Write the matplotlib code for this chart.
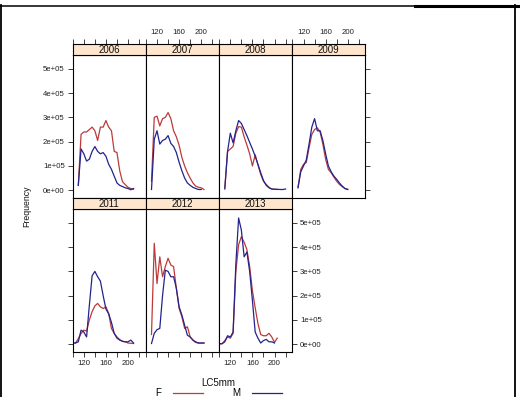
import matplotlib
matplotlib.use('Agg')
import matplotlib.pyplot as plt
import numpy as np
from matplotlib.lines import Line2D

plt.rcParams['font.family'] = ['Liberation Sans', 'DejaVu Sans']

# frequencies in units of 1e5, one value per 5 mm length class
years = ['2006', '2007', '2008', '2009', '2011', '2012', '2013']
start_lc = [110, 110, 110, 110, 100, 110, 100]

f_2006 = [0.2, 2.3, 2.4, 2.4, 2.5, 2.6, 2.45, 2.05, 2.6, 2.6, 2.87, 2.6, 2.45,
          1.6, 1.55, 0.8, 0.35, 0.23, 0.12, 0.07, 0.04]
m_2006 = [0.2, 1.7, 1.5, 1.2, 1.28, 1.6, 1.8, 1.6, 1.5, 1.55, 1.4, 1.07, 0.86,
          0.58, 0.3, 0.2, 0.15, 0.1, 0.07, 0.02, 0.07]
f_2007 = [0.37, 3.0, 3.05, 2.65, 2.95, 3.0, 3.2, 2.95, 2.45, 2.2, 1.85, 1.35,
          1.0, 0.72, 0.5, 0.3, 0.17, 0.12, 0.1, 0.03]
m_2007 = [0.03, 2.1, 2.45, 1.9, 2.05, 2.1, 2.25, 1.93, 1.8, 1.55, 1.15, 0.8,
          0.5, 0.3, 0.2, 0.12, 0.07, 0.03, 0.03]
f_2008 = [0.1, 1.6, 1.7, 1.8, 2.35, 2.62, 2.6, 2.2, 1.86, 1.5, 1.0, 1.46, 1.04,
          0.65, 0.37, 0.24, 0.12, 0.05, 0.04, 0.03]
m_2008 = [0.05, 1.6, 2.35, 1.95, 2.45, 2.87, 2.75, 2.5, 2.25, 1.97, 1.7, 1.4,
          1.07, 0.72, 0.4, 0.2, 0.1, 0.05, 0.04, 0.04, 0.03, 0.03, 0.05]
f_2009 = [0.12, 0.86, 1.07, 1.14, 1.75, 2.3, 2.5, 2.57, 2.4, 1.9, 1.28, 0.86,
          0.72, 0.54, 0.37, 0.24, 0.15, 0.07, 0.04]
m_2009 = [0.1, 0.76, 1.0, 1.25, 1.9, 2.6, 2.95, 2.45, 2.45, 2.05, 1.5, 1.0,
          0.76, 0.58, 0.45, 0.3, 0.17, 0.07, 0.03]
f_2011 = [0.05, 0.05, 0.23, 0.44, 0.58, 0.54, 1.0, 1.34, 1.58, 1.68, 1.54, 1.47,
          1.54, 1.27, 0.65, 0.44, 0.3, 0.19, 0.12, 0.1, 0.05, 0.04, 0.03]
m_2011 = [0.05, 0.05, 0.1, 0.58, 0.5, 0.3, 1.6, 2.82, 3.0, 2.78, 2.6, 2.0, 1.45,
          1.25, 0.9, 0.45, 0.25, 0.17, 0.12, 0.1, 0.1, 0.17, 0.05]
f_2012 = [0.4, 4.16, 2.5, 3.6, 2.78, 3.2, 3.54, 3.26, 3.2, 2.3, 1.47, 1.13,
          0.65, 0.72, 0.3, 0.17, 0.07, 0.05, 0.05, 0.05]
m_2012 = [0.03, 0.45, 0.6, 0.65, 2.0, 3.05, 3.0, 2.78, 2.78, 2.3, 1.54, 1.2,
          0.78, 0.37, 0.3, 0.17, 0.1, 0.05, 0.05, 0.05]
f_2013 = [0.02, 0.02, 0.15, 0.3, 0.25, 0.45, 3.0, 4.1, 4.43, 4.2, 3.9, 3.2, 2.2,
          1.5, 0.85, 0.4, 0.35, 0.35, 0.45, 0.3, 0.08, 0.25]
m_2013 = [0.02, 0.02, 0.1, 0.35, 0.3, 0.5, 3.3, 5.2, 4.7, 3.6, 3.8, 3.0, 1.8,
          0.5, 0.25, 0.05, 0.15, 0.2, 0.1, 0.1, 0.05]

females = [f_2006, f_2007, f_2008, f_2009, f_2011, f_2012, f_2013]
males = [m_2006, m_2007, m_2008, m_2009, m_2011, m_2012, m_2013]

x_ticks = [100, 120, 140, 160, 180, 200, 220]
x_labels = ['', '120', '', '160', '', '200', '']
y_ticks = [0, 1e5, 2e5, 3e5, 4e5, 5e5]
y_labels = ['0e+00', '1e+05', '2e+05', '3e+05', '4e+05', '5e+05']

RED = '#BC3A3A'
BLUE = '#23238E'
STRIP = '#FFE5CC'
W, H = 520, 397
XLIM = (99.5, 232)

fig = plt.figure(figsize=(W / 100, H / 100), dpi=100)


def px(x0, y0, w, h):
    # pixel box (top-left origin) -> figure fraction rect
    return [x0 / W, 1 - (y0 + h) / H, w / W, h / H]


col_left = [72.5, 145.7, 219.0, 292.2]
pw = 73.2
rows = [(44, 55, 198), (198, 209, 352)]  # strip top, body top, body bottom
tick_kw = dict(length=3.6, width=0.6, pad=2, labelsize=5.6,
               colors='#222222', direction='out')

for i, yr in enumerate(years):
    r, c = divmod(i, 4)
    st, bt, bb = rows[r]
    ax = fig.add_axes(px(col_left[c], bt, pw, bb - bt))
    sx = fig.add_axes(px(col_left[c], st, pw, bt - st))

    xf = start_lc[i] + 5 * np.arange(len(females[i]))
    xm = start_lc[i] + 5 * np.arange(len(males[i]))
    ax.plot(xf, np.array(females[i]) * 1e5, color=RED, lw=0.9)
    ax.plot(xm, np.array(males[i]) * 1e5, color=BLUE, lw=0.9)
    ax.set_xlim(*XLIM)
    ax.set_ylim(-0.32e5, 5.57e5)

    for s in ax.spines.values():
        s.set_linewidth(0.8)
        s.set_color('black')
    ax.tick_params(**tick_kw)

    # strip
    sx.set_facecolor(STRIP)
    sx.set_xlim(*XLIM)
    sx.set_yticks([])
    for s in sx.spines.values():
        s.set_linewidth(0.8)
    sx.text(0.5, 0.42, yr, ha='center', va='center', fontsize=7,
            color='#111111', transform=sx.transAxes)

    if r == 0:
        # top row: ticks sit above the strip
        ax.set_xticks([])
        sx.set_xticks(x_ticks)
        sx.xaxis.set_ticks_position('top')
        sx.set_xticklabels(x_labels if c % 2 == 1 else [''] * 7)
        sx.tick_params(**tick_kw)
    else:
        sx.set_xticks([])
        ax.set_xticks(x_ticks)
        ax.xaxis.set_ticks_position('bottom')
        ax.set_xticklabels(x_labels if c % 2 == 0 else [''] * 7)

    ax.set_yticks(y_ticks)
    if r == 0 and c == 0:
        ax.yaxis.set_ticks_position('left')
        ax.set_yticklabels(y_labels)
    elif r == 0 and c == 3:
        ax.yaxis.set_ticks_position('right')
        ax.set_yticklabels([''] * 6)
    elif r == 1 and c == 0:
        ax.yaxis.set_ticks_position('left')
        ax.set_yticklabels([''] * 6)
    elif r == 1 and c == 2:
        ax.yaxis.set_ticks_position('right')
        ax.set_yticklabels(y_labels)
    else:
        ax.tick_params(axis='y', left=False, right=False,
                       labelleft=False, labelright=False)

fig.text(27 / W, 1 - 206 / H, 'Frequency', rotation=90, ha='center',
         va='center', fontsize=6.3, color='#111111')
fig.text(218 / W, 1 - 383 / H, 'LC5mm', ha='center', va='center',
         fontsize=7, color='#111111')

handles = [Line2D([], [], color=RED, lw=0.9), Line2D([], [], color=BLUE, lw=0.9)]
fig.legend(handles, ['F', 'M'], ncol=2, markerfirst=False, frameon=False,
           loc='center', bbox_to_anchor=(219 / W, 1 - 393 / H), fontsize=7,
           handlelength=3.1, handletextpad=1.2, columnspacing=3.0,
           borderpad=0, borderaxespad=0)

# outer frame of the original screenshot
fig.add_artist(Line2D([0, 415 / W], [1 - 6 / H] * 2, color='black', lw=1.1))
fig.add_artist(Line2D([415 / W, 1], [1 - 5.5 / H] * 2, color='black', lw=2.2))
fig.add_artist(Line2D([1 / W] * 2, [0, 1 - 5 / H], color='black', lw=1.3))
fig.add_artist(Line2D([514.5 / W] * 2, [0, 1 - 5 / H], color='black', lw=1.3))

fig.savefig('out.png', dpi=100)
